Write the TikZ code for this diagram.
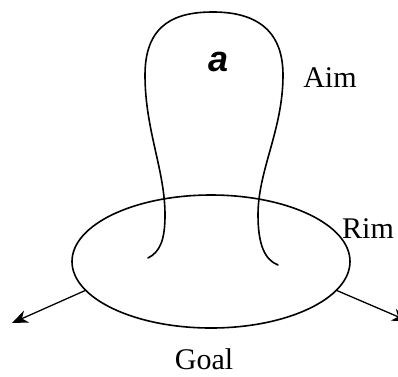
\documentclass[tikz,border=0pt]{standalone}
\usepackage{fontspec}
\setmainfont{Liberation Serif}
\newfontfamily\asans{Liberation Sans}
\usetikzlibrary{shapes.geometric,arrows.meta}
\begin{document}
\begin{tikzpicture}[x=1pt,y=-1pt,
  curve/.style={line width=1.6pt,line cap=round},
  lbl/.style={font=\fontsize{30}{30}\selectfont,anchor=base,inner sep=0pt},
  arr/.style={line width=1.3pt,-{Stealth[length=16pt,width=13pt]}}]
\useasboundingbox (0,0) rectangle (398,376);
\clip (0,0) rectangle (398,376);
\node[ellipse,draw,line width=1.6pt,minimum width=278pt,minimum height=133pt,inner sep=0pt] (E) at (211,261.5) {};
\draw[curve] (148,258) .. controls (160,252) and (165,240) .. (165,215)
  .. controls (165,170) and (145,130) .. (145,75)
  .. controls (145,22) and (178,12) .. (213,12)
  .. controls (252,12) and (283,27) .. (283,75)
  .. controls (283,130) and (258,170) .. (258,215)
  .. controls (258,245) and (265,260) .. (278,265);
\coordinate (L) at (12,323);
\coordinate (R) at (408,321);
\draw[arr] (E.193) -- (L);
\draw[arr] (E.347) -- (R);
\node[inner sep=0pt] (a) at (219,62) {\asans\bfseries\itshape\fontsize{36}{36}\selectfont a};
\node[lbl] (aim) at (330,87) {Aim};
\node[lbl] (rim) at (368,238) {Rim};
\node[lbl] (goal) at (204,369) {Goal};
\end{tikzpicture}
\end{document}
